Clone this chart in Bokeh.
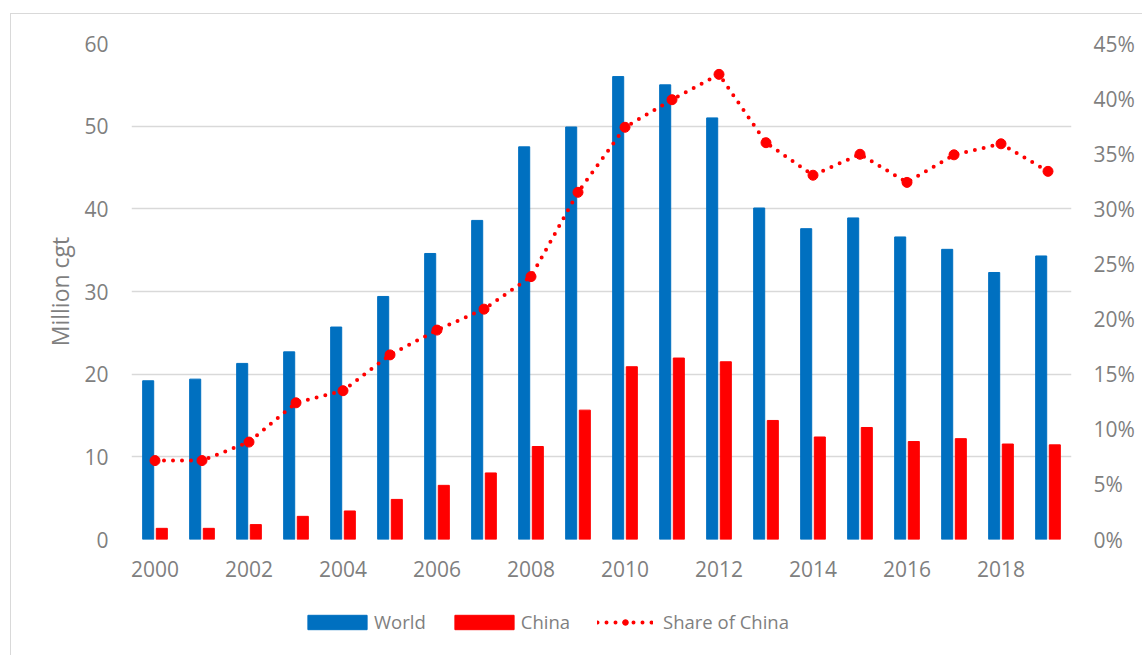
from bokeh.plotting import figure
from bokeh.layouts import column
from bokeh.models import (ColumnDataSource, Range1d, LinearAxis, FixedTicker,
                          NumeralTickFormatter, Legend, LegendItem)
from bokeh.transform import dodge
from bokeh.embed import file_html
from bokeh.resources import INLINE

# Newbuilding completions, million cgt, and China's share of the world total
years = list(range(2000, 2020))
world = [19.2, 19.4, 21.3, 22.7, 25.7, 29.4, 34.6, 38.6, 47.5, 49.9,
         56.0, 55.0, 51.0, 40.1, 37.6, 38.9, 36.6, 35.1, 32.3, 34.3]
china = [1.35, 1.35, 1.8, 2.8, 3.45, 4.85, 6.55, 8.05, 11.25, 15.65,
         20.9, 21.95, 21.5, 14.4, 12.4, 13.55, 11.85, 12.2, 11.55, 11.45]
share = [0.0716, 0.0716, 0.0884, 0.124, 0.135, 0.1675, 0.190, 0.209, 0.2385, 0.315,
         0.374, 0.399, 0.422, 0.360, 0.3305, 0.3495, 0.324, 0.349, 0.359, 0.334]

left_ticks = [0, 10, 20, 30, 40, 50, 60]
right_ticks = [0.0, 0.05, 0.10, 0.15, 0.20, 0.25, 0.30, 0.35, 0.40, 0.45]
year_ticks = list(range(2000, 2019, 2))
series_names = ["World", "China", "Share of China"]

BLUE = "#0070C0"
RED = "#FF0000"
TEXT = "#7f7f7f"
GRID = "#d9d9d9"
FONT = "Open Sans"

W = 1131
MAIN_H = 581
LEG_H = 60

src = ColumnDataSource(dict(year=years, world=world, china=china, share=share))

p = figure(width=W, height=MAIN_H, output_backend="svg", toolbar_location=None,
           x_range=Range1d(1999.5, 2019.5), y_range=Range1d(0, 60),
           min_border_left=120, min_border_right=71, min_border_top=29,
           min_border_bottom=56, background_fill_color="white",
           border_fill_color="white")
p.outline_line_color = None
p.extra_y_ranges = {"share": Range1d(0, 0.45)}

# grid
p.xgrid.grid_line_color = None
p.ygrid.grid_line_color = GRID
p.ygrid.grid_line_width = 1.5

# bars
bar_style = dict(width=0.235)
p.vbar(x=dodge("year", -0.145, range=p.x_range), top="world", source=src,
       fill_color=BLUE, line_color=BLUE, **bar_style)
p.vbar(x=dodge("year", 0.145, range=p.x_range), top="china", source=src,
       fill_color=RED, line_color=RED, **bar_style)

# share line
line_style = dict(line_color=RED, line_width=4, line_dash="0 9", line_cap="round")
marker_style = dict(size=10, fill_color=RED, line_color=RED)
p.line("year", "share", source=src, y_range_name="share", **line_style)
p.scatter("year", "share", source=src, y_range_name="share", **marker_style)


def style_axis(ax, size):
    ax.axis_line_color = None
    ax.major_tick_line_color = None
    ax.minor_tick_line_color = None
    ax.major_tick_out = 0
    ax.major_tick_in = 0
    ax.major_label_text_color = TEXT
    ax.major_label_text_font = FONT
    ax.major_label_text_font_size = size


xa = p.xaxis[0]
xa.ticker = FixedTicker(ticks=year_ticks)
style_axis(xa, "21px")
xa.major_label_standoff = 21

ya = p.yaxis[0]
ya.ticker = FixedTicker(ticks=left_ticks)
style_axis(ya, "21px")
ya.major_label_standoff = 23
ya.axis_label = "Million cgt"
ya.axis_label_text_font = FONT
ya.axis_label_text_font_size = "23px"
ya.axis_label_text_font_style = "normal"
ya.axis_label_text_color = TEXT
ya.axis_label_standoff = 5

ra = LinearAxis(y_range_name="share", ticker=FixedTicker(ticks=right_ticks),
                formatter=NumeralTickFormatter(format="0%"))
style_axis(ra, "21px")
ra.major_label_standoff = 22
p.add_layout(ra, "right")

# legend strip under the chart; its hidden renderers share the chart's styles
# so that only the legend swatches are drawn
lg = figure(width=W, height=LEG_H, output_backend="svg", toolbar_location=None,
            x_range=Range1d(0, 1), y_range=Range1d(0, 1),
            x_axis_type=None, y_axis_type=None, min_border=0,
            background_fill_color="white", border_fill_color="white")
lg.outline_line_color = None
lg.xgrid.visible = False
lg.ygrid.visible = False
stub = ColumnDataSource(dict(x=[0.5, 0.5], y=[0.5, 0.5]))
r_world = lg.vbar(x="x", top="y", source=stub, fill_color=BLUE,
                  line_color=BLUE, **bar_style)
r_china = lg.vbar(x="x", top="y", source=stub, fill_color=RED,
                  line_color=RED, **bar_style)
r_line = lg.line("x", "y", source=stub, **line_style)
r_mark = lg.scatter("x", "y", source=stub, **marker_style)
for r in (r_world, r_china, r_line, r_mark):
    r.visible = False


def make_legend(items, location, glyph_width, glyph_height, standoff):
    leg = Legend(items=items, orientation="horizontal", location=location)
    leg.glyph_width = glyph_width
    leg.glyph_height = glyph_height
    leg.label_standoff = standoff
    leg.spacing = 21
    leg.padding = 0
    leg.margin = 0
    leg.border_line_color = None
    leg.background_fill_alpha = 0
    leg.label_text_font = FONT
    leg.label_text_font_size = "18.5px"
    leg.label_text_color = TEXT
    return leg


# bar swatches are inset by a tenth on each side, hence the larger boxes
bar_legend = make_legend([LegendItem(label=series_names[0], renderers=[r_world]),
                          LegendItem(label=series_names[1], renderers=[r_china])],
                         (169, 21), 74, 18, 0)
line_legend = make_legend([LegendItem(label=series_names[2],
                                      renderers=[r_line, r_mark])],
                          (466, 21), 56, 14, 10)
lg.add_layout(bar_legend, "center")
lg.add_layout(line_legend, "center")

page = column(p, lg, spacing=0,
              styles={"margin-left": "10px", "margin-top": "13px",
                      "border-left": f"1px solid {GRID}",
                      "border-top": f"1px solid {GRID}"})

open("out.html", "w").write(file_html(page, INLINE))
